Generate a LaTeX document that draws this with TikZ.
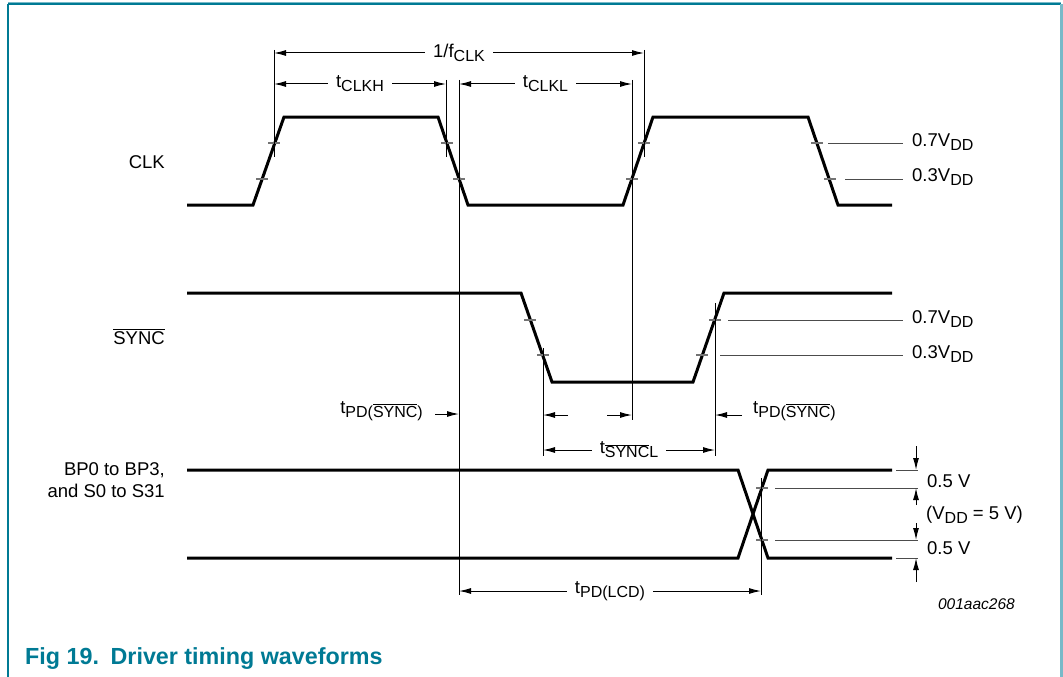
\documentclass[tikz,border=0pt]{standalone}
\usepackage{fontspec}
\setmainfont{Liberation Sans}
\usetikzlibrary{arrows.meta}

\definecolor{nxpteal}{RGB}{0,122,148}
\definecolor{nxplight}{RGB}{120,185,200}
\newcommand\sbs[1]{\raisebox{-4pt}{\fontsize{16}{16}\selectfont #1}}
\newcommand\nsync{$\overline{\mbox{SYNC}}$}

\tikzset{
    wave/.style={line width=3pt},
    guide/.style={line width=1pt},
    tickmark/.style={line width=1.2pt, black!55},
    refline/.style={line width=1pt, black!70},
    dimarrow/.style={line width=1pt, {Latex[length=12pt,width=6pt]}-{Latex[length=12pt,width=6pt]}},
    onearrow/.style={line width=1pt, -{Latex[length=12pt,width=6pt]}},
    txt/.style={font=\fontsize{18.5}{21.5}\selectfont, inner sep=0pt},
    gaplbl/.style={txt, fill=white, inner xsep=8pt, inner ysep=2pt}
}

\begin{document}
\begin{tikzpicture}[x=1pt,y=-1pt]
        \useasboundingbox (0,0) rectangle (1063,677);

        \draw[nxplight, line width=1pt] (8,2.5) -- (1061,2.5);
        \draw[nxpteal, line width=2pt] (8,4.5) -- (1061,4.5);
        \draw[nxpteal, line width=2pt] (8,4) -- (8,677);
        \draw[nxplight, line width=3pt] (1061,4) -- (1061,677);

        \draw[wave] (187,205) -- (253,205) -- (284,117) -- (438,117) -- (468,205) -- (623,205)
            -- (653,117) -- (808,117) -- (838,205) -- (892,205);
        \draw[wave] (187,293) -- (521,293) -- (552,382) -- (693,382) -- (724,293) -- (892,293);
        \draw[wave] (187,470) -- (738,470) -- (768,558) -- (892,558);
        \draw[wave] (187,558) -- (738,558) -- (768,470) -- (892,470);

        \foreach \x/\y in {262/179, 274/143, 447/143, 459/179, 632/179, 644/143, 817/143, 830/179,
            530/320, 543/355, 702/355, 715/320, 762/488, 762/540}
            \draw[tickmark] (\x-6,\y) -- (\x+6,\y);

        \draw[guide] (274,50) -- (274,157);
        \draw[guide] (446,80) -- (446,157);
        \draw[guide] (459,80) -- (459,595);
        \draw[guide] (632,80) -- (632,420);
        \draw[guide] (644,50) -- (644,157);
        \draw[guide] (543,348) -- (543,456);
        \draw[guide] (715,303) -- (715,456);
        \draw[guide] (761,478) -- (761,595);

        \draw[refline] (828,143) -- (903,143);
        \draw[refline] (845,179) -- (903,179);
        \draw[refline] (728,320) -- (903,320);
        \draw[refline] (720,355) -- (903,355);
        \draw[refline] (775,488) -- (918,488);
        \draw[refline] (775,540) -- (918,540);
        \draw[refline] (896,470) -- (918,470);
        \draw[refline] (896,558) -- (918,558);

        \coordinate (F_1) at (274,53);
        \coordinate (F_2) at (644,53);
        \coordinate (H_1) at (274,84);
        \coordinate (H_2) at (446,84);
        \coordinate (L_1) at (459,84);
        \coordinate (L_2) at (632,84);

        \coordinate (S_1) at (543,450);
        \coordinate (S_2) at (715,450);
        \coordinate (D_1) at (459,591);
        \coordinate (D_2) at (761,591);

        \coordinate (Q_1) at (435,414);
        \coordinate (Q_2) at (459,414);
        \coordinate (Q_3) at (568,415);
        \coordinate (Q_4) at (543,415);
        \coordinate (Q_5) at (607,415);
        \coordinate (Q_6) at (632,415);
        \coordinate (Q_7) at (742,415);
        \coordinate (Q_8) at (715,415);

        \coordinate (V_1) at (916,446);
        \coordinate (V_2) at (916,470);
        \coordinate (V_3) at (916,505);
        \coordinate (V_4) at (916,488);
        \coordinate (V_5) at (916,523);
        \coordinate (V_6) at (916,540);
        \coordinate (V_7) at (916,582);
        \coordinate (V_8) at (916,558);

        \draw[dimarrow] (F_1) -- node[gaplbl] (fclk) {1/f\sbs{CLK}} (F_2);
        \draw[dimarrow] (H_1) -- node[gaplbl] (tclkh) {t\sbs{CLKH}} (H_2);
        \draw[dimarrow] (L_1) -- node[gaplbl] (tclkl) {t\sbs{CLKL}} (L_2);
        \draw[dimarrow] (S_1) -- node[gaplbl] (tsyncl) {t\sbs{\nsync L}} (S_2);
        \draw[dimarrow] (D_1) -- node[gaplbl] (tlcd) {t\sbs{PD(LCD)}} (D_2);

        \draw[onearrow] (Q_1) -- (Q_2);
        \draw[onearrow] (Q_3) -- (Q_4);
        \draw[onearrow] (Q_5) -- (Q_6);
        \draw[onearrow] (Q_7) -- (Q_8);
        \draw[onearrow] (V_1) -- (V_2);
        \draw[onearrow] (V_3) -- (V_4);
        \draw[onearrow] (V_5) -- (V_6);
        \draw[onearrow] (V_7) -- (V_8);

        \node[txt, anchor=base east] (clk) at (165,168) {CLK};
        \node[txt, anchor=base east] (sync) at (165,344) {\nsync};
        \node[txt, anchor=base east, align=right] (bp) at (165,497) {BP0 to BP3,\\and S0 to S31};

        \node[txt, anchor=base west] (hi_1) at (912,146) {0.7V\sbs{DD}};
        \node[txt, anchor=base west] (lo_1) at (912,181) {0.3V\sbs{DD}};
        \node[txt, anchor=base west] (hi_2) at (912,323) {0.7V\sbs{DD}};
        \node[txt, anchor=base west] (lo_2) at (912,358) {0.3V\sbs{DD}};
        \node[txt, anchor=base west] (hv) at (927,487) {0.5 V};
        \node[txt, anchor=base west] (vdd) at (926,519) {(V\sbs{DD} = 5 V)};
        \node[txt, anchor=base west] (lv) at (927,554) {0.5 V};

        \node[txt, anchor=base east] (pd_1) at (423,413) {t\sbs{PD(\nsync)}};
        \node[txt, anchor=base west] (pd_2) at (753,413) {t\sbs{PD(\nsync)}};

        \node[txt, anchor=base east, font=\fontsize{15.5}{18}\selectfont\itshape] (code) at (1015,609) {001aac268};
        \node[anchor=base west, inner sep=0pt, text=nxpteal, font=\fontsize{23.3}{27}\selectfont\bfseries] (cap) at (25,664)
            {Fig 19.\hspace{3pt} Driver timing waveforms};
\end{tikzpicture}
\end{document}
